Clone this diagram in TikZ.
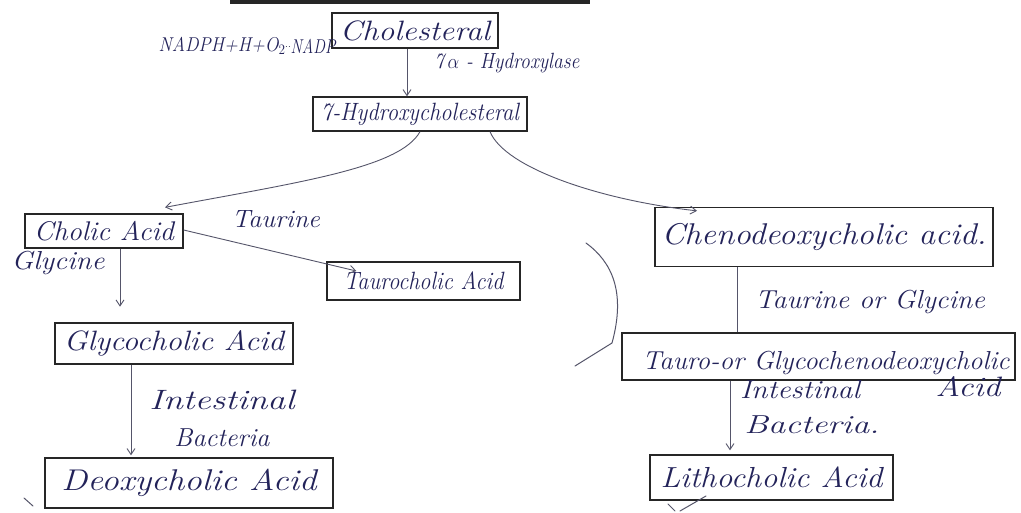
\documentclass[tikz,border=0pt]{standalone}
\usetikzlibrary{arrows.meta}
\definecolor{ink}{HTML}{23235A}
\definecolor{frame}{HTML}{262626}
\definecolor{pencil}{HTML}{55556A}
% stretch a text to a given width, keeping its height
\newcommand\fit[2]{\resizebox{#1}{\height}{#2}}
% italic text at a given size
\newcommand\hsz[1]{\itshape\fontsize{#1}{#1}\selectfont}
\begin{document}
\begin{tikzpicture}[x=1pt,y=-1pt,
  every node/.style={text=ink,font=\hsz{26},inner sep=0pt},
  box/.style={draw=frame,line width=1.3pt},
  lbl/.style={font=\hsz{23}},
  flow/.style={draw=pencil,line width=0.9pt,-{Straight Barb[length=6pt,width=8pt]}},
  link/.style={draw=pencil,line width=0.9pt},
  stroke/.style={draw=pencil,line width=1pt,line cap=round}]
\useasboundingbox (0,0) rectangle (1021,512);
\fill[white] (0,0) rectangle (1021,512);

% smudge of the previous line at the top edge
\draw[frame,line width=5pt] (230,1) -- (590,1);

% compounds
\node[box,minimum width=166pt,minimum height=35pt,font=\hsz{28}] (chol) at (415,30.5) {\fit{150pt}{Cholesteral}};
\node[box,minimum width=214pt,minimum height=34pt,font=\hsz{25}] (hyd) at (420,114) {\fit{198pt}{7-Hydroxycholesteral}};
\node[box,minimum width=158pt,minimum height=34pt,font=\hsz{27}] (cholic) at (104,231) {\fit{140pt}{Cholic Acid}};
\node[box,minimum width=193pt,minimum height=38pt,font=\hsz{25}] (tauro) at (423.5,281) {\fit{160pt}{Taurocholic Acid}};
\node[box,minimum width=238pt,minimum height=41pt,font=\hsz{28}] (glyco) at (174,343.5) {\fit{220pt}{Glycocholic Acid}};
\node[box,minimum width=288pt,minimum height=50pt,font=\hsz{30}] (deoxy) at (189,483) {\fit{255pt}{Deoxycholic Acid}};
\node[box,minimum width=338pt,minimum height=59pt,font=\hsz{30}] (cheno) at (824,237) {\fit{325pt}{Chenodeoxycholic acid.}};
\node[box,minimum width=393pt,minimum height=47pt] (tg) at (818.5,356.5) {};
\node (tgtext) at (826,363) {\fit{367pt}{Tauro-or Glycochenodeoxycholic}};
\node[font=\hsz{28}] (tgacid) at (968,387) {\fit{65pt}{Acid}};
\node[box,minimum width=243pt,minimum height=45pt,font=\hsz{29}] (litho) at (771.5,477.5) {\fit{222pt}{Lithocholic Acid}};

% cofactors and enzymes
\node[lbl,font=\hsz{20}] (nadph) at (222,46) {\fit{127pt}{NADPH+H+O$_2$}};
\node[lbl,font=\hsz{20}] (nadp) at (313,46) {\fit{45pt}{NADP}};
\node[lbl,font=\hsz{22}] (enz) at (507,63) {\fit{145pt}{7\,$\alpha$ - Hydroxylase}};
\node[lbl,font=\hsz{25}] (taurine) at (276,219) {\fit{88pt}{Taurine}};
\node[lbl,font=\hsz{26}] (glycine) at (58,263) {\fit{93pt}{Glycine}};
\node[lbl,font=\hsz{28}] (intL) at (222,400) {\fit{145pt}{Intestinal}};
\node[lbl,font=\hsz{26}] (bacL) at (222,438) {\fit{95pt}{Bacteria}};
\node[lbl,font=\hsz{26}] (tog) at (870,302) {\fit{230pt}{Taurine or Glycine}};
\node[lbl,font=\hsz{26}] (intR) at (800,390) {\fit{120pt}{Intestinal}};
\node[lbl,font=\hsz{26}] (bacR) at (812,425) {\fit{135pt}{Bacteria.}};

% reactions
\draw[pencil,dotted,line width=0.8pt] (nadph.east) -- (nadp.west);
\draw[flow] ([xshift=-8pt]chol.south) -- ([xshift=-8pt]chol.south |- hyd.north);
\draw[flow] (hyd.south) .. controls (400,168) and (300,182) .. ([xshift=61pt,yshift=6pt]cholic.north);
\draw[flow] ([xshift=70pt]hyd.south) .. controls (505,168) and (600,200) .. ([xshift=-127pt,yshift=-4pt]cheno.north);
\draw[flow] ([yshift=1pt]cholic.east) -- ([xshift=30pt,yshift=10pt]tauro.west);
\draw[flow] ([xshift=16pt]cholic.south) -- ([xshift=16pt,yshift=-58pt]cholic.south);
\draw[flow] ([xshift=-43pt]glyco.south) -- ([xshift=-58pt,yshift=2pt]deoxy.north);
\draw[link] ([xshift=-87pt]cheno.south) -- ([xshift=-87pt]cheno.south |- tg.north);
\draw[flow] ([xshift=-88.5pt]tg.south) -- ([xshift=-41.5pt,yshift=4pt]litho.north);

% stray pen marks
\draw[stroke] (586,243) .. controls (612,262) and (626,292) .. (612,343) -- (575,366);
\draw[stroke] (24,498) -- (33,506);
\draw[stroke] (668,504) -- (675,511);
\draw[stroke] (680,511) -- (706,496);
\end{tikzpicture}
\end{document}
